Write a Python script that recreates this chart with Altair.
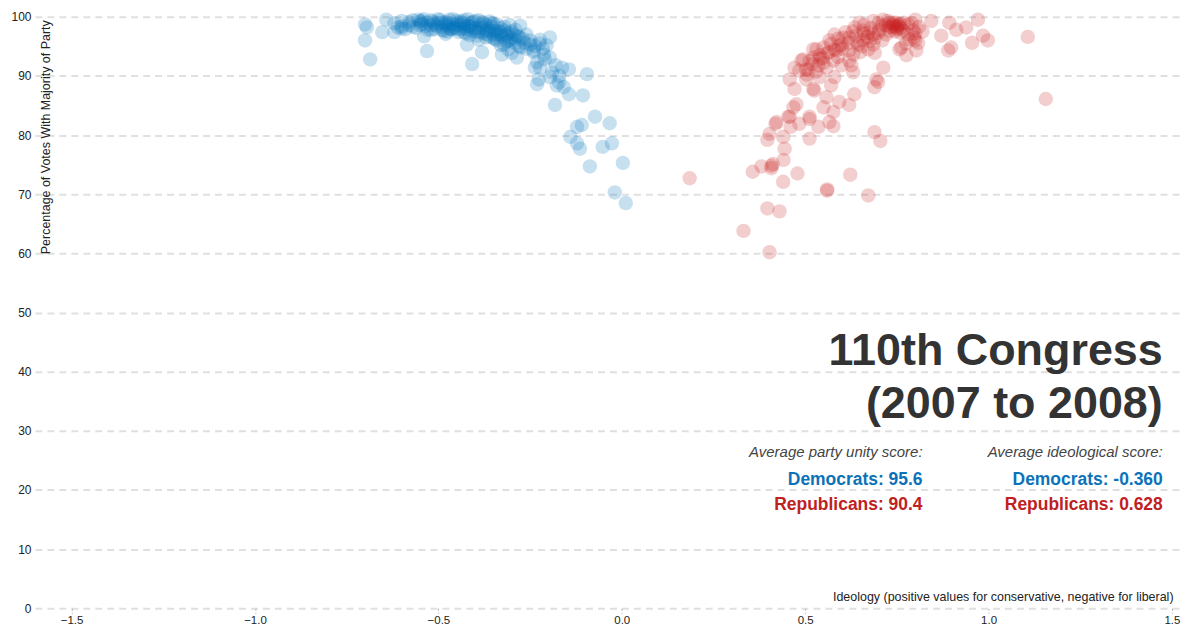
import altair as alt
import pandas as pd

# ---- data (ideology score, % votes with party majority) ----
dem_points = [
    (-0.70, 98.7), (-0.695, 98.2), (-0.70, 96.0), (-0.686, 92.8), (-0.653, 97.4), (-0.642, 99.5),
    (-0.62, 97.4), (-0.60, 98.4), (-0.539, 96.7), (-0.531, 94.2), (-0.422, 95.3), (-0.408, 92.0),
    (-0.381, 94.0), (-0.48, 97.1),
    (-0.62, 98.9), (-0.61, 98.2), (-0.60, 99.3), (-0.59, 97.9), (-0.58, 98.6), (-0.57, 99.4),
    (-0.56, 98.1), (-0.555, 99.5), (-0.55, 99.2), (-0.545, 98.8), (-0.54, 99.6), (-0.535, 98.4),
    (-0.53, 99.0), (-0.52, 98.6), (-0.515, 99.2), (-0.51, 97.9), (-0.50, 98.9), (-0.495, 99.4),
    (-0.49, 98.3), (-0.485, 97.6), (-0.48, 99.1), (-0.475, 98.5), (-0.47, 99.5), (-0.465, 97.9),
    (-0.46, 98.8), (-0.455, 98.2), (-0.45, 99.3), (-0.445, 97.4), (-0.44, 98.6),
    (-0.435, 99.0), (-0.43, 98.1), (-0.425, 97.2), (-0.42, 99.6), (-0.415, 98.4), (-0.41, 97.6),
    (-0.405, 99.1), (-0.40, 98.0), (-0.395, 96.8), (-0.39, 99.4), (-0.385, 98.6), (-0.38, 97.3),
    (-0.375, 98.9), (-0.37, 96.5), (-0.365, 97.9), (-0.36, 99.2), (-0.355, 98.3), (-0.35, 97.0),
    (-0.345, 96.2), (-0.34, 98.7), (-0.335, 97.5), (-0.33, 98.1), (-0.325, 96.6), (-0.32, 97.7),
    (-0.315, 95.8), (-0.31, 97.2), (-0.305, 98.6), (-0.30, 96.4), (-0.295, 97.0), (-0.29, 95.5),
    (-0.285, 96.8),
    (-0.47, 98.0), (-0.43, 98.8), (-0.40, 99.3), (-0.38, 98.2), (-0.36, 97.5), (-0.34, 97.1),
    (-0.42, 97.8), (-0.39, 97.4), (-0.37, 98.6), (-0.35, 98.8), (-0.33, 96.9), (-0.41, 99.0),
    (-0.44, 99.2), (-0.46, 99.6), (-0.48, 98.7), (-0.50, 99.6), (-0.52, 99.4), (-0.55, 98.6),
    (-0.53, 97.8), (-0.58, 99.1),
    (-0.60, 98.0), (-0.57, 98.3), (-0.545, 99.3), (-0.52, 97.8), (-0.505, 98.4), (-0.49, 99.0),
    (-0.475, 97.5), (-0.46, 98.0), (-0.45, 98.6), (-0.44, 97.9), (-0.43, 99.4), (-0.42, 98.5),
    (-0.415, 96.9), (-0.40, 97.5), (-0.39, 98.1), (-0.38, 99.1), (-0.37, 97.7), (-0.36, 96.7),
    (-0.355, 98.9), (-0.345, 97.6), (-0.34, 96.0), (-0.33, 97.4), (-0.32, 98.3), (-0.315, 96.9),
    (-0.31, 95.9), (-0.30, 97.5), (-0.29, 96.2), (-0.28, 96.6), (-0.275, 94.8), (-0.265, 95.6),
    (-0.33, 95.2), (-0.35, 96.4), (-0.37, 97.1), (-0.39, 96.1), (-0.41, 98.3), (-0.43, 97.4),
    (-0.45, 97.9), (-0.47, 98.9), (-0.49, 97.8), (-0.51, 98.7),
    (-0.28, 95.0), (-0.27, 96.3), (-0.26, 94.6), (-0.31, 94.5), (-0.30, 93.9), (-0.29, 97.8),
    (-0.26, 97.0), (-0.25, 96.0), (-0.24, 94.0), (-0.225, 95.5), (-0.215, 94.6), (-0.205, 95.2),
    (-0.327, 93.6), (-0.286, 93.1), (-0.277, 98.5), (-0.305, 96.1), (-0.321, 95.3), (-0.25, 95.3),
    (-0.237, 95.1), (-0.223, 96.1), (-0.196, 96.5), (-0.21, 92.8), (-0.196, 93.1), (-0.231, 92.3),
    (-0.223, 91.4), (-0.237, 91.4), (-0.163, 91.4), (-0.144, 91.1), (-0.095, 90.3), (-0.231, 88.6),
    (-0.226, 89.4), (-0.196, 89.8), (-0.177, 88.4), (-0.171, 88.9), (-0.158, 88.1), (-0.144, 86.9),
    (-0.106, 86.7), (-0.182, 85.1), (-0.073, 83.1), (-0.033, 82.0), (-0.122, 81.4), (-0.109, 81.7),
    (-0.14, 79.7), (-0.122, 78.6), (-0.114, 77.7), (-0.052, 78.0), (-0.027, 78.6), (-0.087, 74.7),
    (0.003, 75.3), (-0.019, 70.3), (0.011, 68.5), (-0.24, 94.3), (-0.212, 93.6), (-0.19, 90.6),
    (-0.17, 90.0), (-0.18, 91.8),
]

rep_points = [
    (0.185, 72.7), (0.332, 63.8), (0.403, 60.2), (0.397, 67.6), (0.43, 67.1), (0.357, 73.8),
    (0.381, 74.7), (0.408, 74.8), (0.408, 74.4), (0.412, 75.1), (0.44, 72.1), (0.479, 73.5),
    (0.56, 70.8), (0.56, 70.6), (0.623, 73.3), (0.672, 69.8), (0.441, 75.8), (0.444, 77.7),
    (0.397, 79.2), (0.403, 80.2), (0.419, 81.9), (0.44, 79.7), (0.458, 83.1), (0.46, 81.4),
    (0.484, 81.9), (0.512, 79.4), (0.577, 81.5), (0.536, 81.4), (0.512, 82.7), (0.468, 84.7),
    (0.689, 80.5), (0.705, 79.0), (0.422, 82.2), (0.454, 83.1), (0.512, 83.1), (0.566, 82.2),
    (0.577, 83.9),
    (0.62, 85.1), (0.634, 86.9), (0.593, 85.6), (0.55, 84.7), (0.476, 85.2), (0.471, 87.8),
    (0.458, 89.4), (0.471, 91.4), (0.49, 92.6), (0.503, 89.4), (0.522, 87.8), (0.54, 89.8),
    (0.558, 86.4), (0.571, 88.4), (0.58, 89.8), (0.525, 87.5), (0.689, 88.1), (0.694, 89.4),
    (0.699, 89.0), (0.713, 91.4), (0.484, 90.9),
    (0.522, 93.1), (0.531, 94.5), (0.55, 94.8), (0.566, 96.0), (0.585, 94.3), (0.577, 92.6),
    (0.558, 91.4), (0.593, 95.1), (0.604, 96.5), (0.62, 94.3), (0.626, 91.8), (0.631, 90.6),
    (0.645, 95.3), (0.658, 96.1), (0.672, 94.5), (0.686, 95.3), (0.658, 97.7), (0.686, 97.0),
    (0.702, 97.7), (0.708, 98.5), (0.729, 98.2), (0.754, 98.5), (0.767, 97.7), (0.748, 99.0),
    (0.648, 99.0), (0.686, 99.3), (0.713, 99.5), (0.762, 94.8), (0.776, 93.5), (0.522, 94.5),
    (0.54, 93.5), (0.536, 91.8), (0.503, 91.1), (0.599, 91.8), (0.62, 92.6), (0.631, 93.6),
    (0.618, 95.6), (0.639, 96.8), (0.672, 97.3), (0.721, 97.0), (0.740, 99.0), (0.781, 98.7),
    (0.795, 97.7), (0.797, 96.5), (0.757, 94.5), (0.495, 92.8), (0.509, 91.0), (0.512, 92.5),
    (0.548, 93.0), (0.565, 94.0), (0.59, 93.2), (0.60, 94.6), (0.61, 97.4), (0.635, 98.2),
    (0.66, 98.6), (0.70, 98.9), (0.725, 99.3), (0.745, 98.4), (0.755, 98.7), (0.735, 98.3),
    (0.76, 98.1), (0.75, 97.9), (0.77, 99.0), (0.76, 97.3), (0.775, 95.5), (0.785, 96.2),
    (0.67, 96.6), (0.65, 94.0), (0.69, 93.9), (0.58, 97.0),
    (0.72, 98.6), (0.73, 99.0), (0.74, 98.7), (0.75, 98.2), (0.76, 98.8), (0.745, 97.5),
    (0.70, 97.3), (0.68, 98.1), (0.66, 97.2), (0.64, 95.8), (0.62, 96.5), (0.60, 95.3),
    (0.58, 94.5), (0.56, 93.8), (0.54, 92.9), (0.52, 92.0), (0.505, 90.2), (0.53, 90.7),
    (0.55, 92.2), (0.57, 95.4), (0.59, 96.3), (0.63, 97.5), (0.655, 95.0), (0.675, 95.9),
    (0.69, 96.4), (0.71, 96.0), (0.73, 97.6), (0.79, 98.9), (0.80, 97.2), (0.78, 97.0),
    (0.80, 99.5), (0.81, 98.3), (0.82, 97.5), (0.80, 96.0), (0.808, 95.6), (0.803, 94.3),
    (0.844, 99.3), (0.893, 99.0), (0.871, 96.8), (0.89, 94.3), (0.898, 94.8), (0.912, 97.8),
    (0.939, 98.2), (0.955, 95.6), (0.971, 99.5), (0.985, 96.8), (0.998, 96.0), (1.107, 96.6),
    (1.156, 86.1),
]

parties = ["Democrat", "Republican"]
party_colors = ["#0072bc", "#c81e1e"]
x_ticks = [-1.5, -1.0, -0.5, 0.0, 0.5, 1.0, 1.5]
y_ticks = [0, 10, 20, 30, 40, 50, 60, 70, 80, 90, 100]

title_lines = ["110th Congress", "(2007 to 2008)"]
header_texts = ["Average party unity score:", "Average ideological score:"]
unity_texts = ["Democrats: 95.6", "Republicans: 90.4"]
ideology_texts = ["Democrats: -0.360", "Republicans: 0.628"]

# ---- tables ----
df = pd.DataFrame(
    [(x, y, "Democrat") for x, y in dem_points] + [(x, y, "Republican") for x, y in rep_points],
    columns=["ideology", "unity", "party"],
)

title_df = pd.DataFrame({"t": title_lines, "x": [1.475, 1.475], "y": [41.1, 32.2]})
header_df = pd.DataFrame({"t": header_texts, "x": [0.82, 1.475], "y": [25.5, 25.5]})
value_df = pd.DataFrame({
    "t": unity_texts + ideology_texts,
    "x": [0.82, 0.82, 1.475, 1.475],
    "y": [20.9, 16.6, 20.9, 16.6],
    "c": ["#0b72b9", "#c0211f", "#0b72b9", "#c0211f"],
})

W, H = 1148, 593
x_scale = alt.Scale(domain=[-1.6, 1.522], nice=False, zero=False)
y_scale = alt.Scale(domain=[0, 100], nice=False)

points = alt.Chart(df).mark_circle(size=210, opacity=0.22).encode(
    x=alt.X(
        "ideology:Q", scale=x_scale,
        axis=alt.Axis(
            values=x_ticks, format=".1f", grid=False, domain=False,
            tickSize=5, tickDash=[2, 2], tickColor="#b0b0b0", tickWidth=1,
            labelFontSize=11.5, labelColor="#222", labelPadding=1,
            title="Ideology (positive values for conservative, negative for liberal)",
            titleFontSize=12.5, titleFontWeight="normal", titleColor="#222",
            titleAlign="right", titleX=1141, titleY=-5, titleBaseline="bottom",
        ),
    ),
    y=alt.Y(
        "unity:Q", scale=y_scale,
        axis=alt.Axis(
            values=y_ticks, grid=True, gridDash=[7, 5], gridColor="#e0e0e0", gridWidth=2,
            domain=False, ticks=False, labelFontSize=12, labelColor="#222", labelPadding=4,
            title="Percentage of Votes With Majority of Party",
            titleFontSize=12.5, titleFontWeight="normal", titleColor="#222",
            titleAlign="right", titleX=11, titleY=3, titleBaseline="middle",
        ),
    ),
    color=alt.Color("party:N", scale=alt.Scale(domain=parties, range=party_colors), legend=None),
)

title_layer = alt.Chart(title_df).mark_text(
    align="right", baseline="alphabetic", fontSize=45, fontWeight="bold", color="#333"
).encode(x=alt.X("x:Q", scale=x_scale), y=alt.Y("y:Q", scale=y_scale), text="t:N")

header_layer = alt.Chart(header_df).mark_text(
    align="right", baseline="alphabetic", fontSize=15, fontStyle="italic", color="#444"
).encode(x=alt.X("x:Q", scale=x_scale), y=alt.Y("y:Q", scale=y_scale), text="t:N")

value_layer = alt.Chart(value_df).mark_text(
    align="right", baseline="alphabetic", fontSize=17.5, fontWeight="bold"
).encode(
    x=alt.X("x:Q", scale=x_scale), y=alt.Y("y:Q", scale=y_scale), text="t:N",
    color=alt.Color("c:N", scale=None),
)

chart = alt.layer(points, title_layer, header_layer, value_layer).properties(
    width=W, height=H,
    autosize=alt.AutoSizeParams(type="none"),
    padding={"left": 27, "top": 8, "right": 4, "bottom": 19},
    background="white",
).configure(font="Liberation Sans").configure_view(stroke=None)

chart.save("out.html", embed_options={"renderer": "svg", "actions": False})
